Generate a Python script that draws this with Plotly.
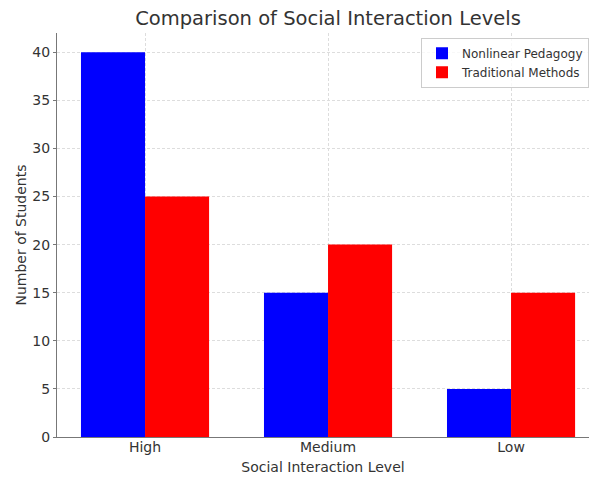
import plotly.graph_objects as go

categories = ["High", "Medium", "Low"]
nonlinear = [40, 15, 5]
traditional = [25, 20, 15]
series_names = ["Nonlinear Pedagogy", "Traditional Methods"]

W, H = 590, 477
L, R, T, B = 57, 1, 33, 40

fig = go.Figure()
fig.add_trace(go.Bar(x=[0, 1, 2], y=nonlinear, name=series_names[0],
                     marker=dict(color="#0000ff", line=dict(width=0))))
fig.add_trace(go.Bar(x=[0, 1, 2], y=traditional, name=series_names[1],
                     marker=dict(color="#ff0000", line=dict(width=0))))

font = "DejaVu Sans"
fig.update_layout(
    width=W, height=H,
    margin=dict(l=L, r=R, t=T, b=B, pad=0, autoexpand=False),
    barmode="group", bargap=0.3, bargroupgap=0,
    plot_bgcolor="white", paper_bgcolor="white",
    font=dict(family=font, color="#333333", size=14),
    title=dict(text="Comparison of Social Interaction Levels",
               x=328 / W, xanchor="center", xref="container",
               y=1 - 18 / H, yanchor="middle", yref="container",
               font=dict(size=19.5, color="#333333")),
    legend=dict(x=1.0, xanchor="right", y=0.988, yanchor="top",
                bgcolor="rgba(255,255,255,0.8)", bordercolor="#cccccc", borderwidth=1,
                font=dict(size=12, color="#333333"),
                itemsizing="constant", tracegroupgap=0, itemwidth=30),
    showlegend=True,
)
fig.update_xaxes(
    range=[-0.481, 2.426], tickmode="array", tickvals=[0, 1, 2], ticktext=categories,
    showline=True, linecolor="#777777", linewidth=1.2,
    ticks="", ticklabelstandoff=-3,
    showgrid=True, gridcolor="#dddddd", griddash="3px,2px", gridwidth=0.8,
    zeroline=False, automargin=False,
    title=dict(text="Social Interaction Level", font=dict(size=14), standoff=8),
)
fig.update_yaxes(
    range=[0, 42], tickmode="array", tickvals=list(range(0, 41, 5)),
    showline=True, linecolor="#777777", linewidth=1.2,
    ticks="outside", ticklen=3, tickcolor="#777777",
    showgrid=True, gridcolor="#dddddd", griddash="3px,2px", gridwidth=0.8,
    zeroline=False, automargin=False,
    title=dict(text="Number of Students", font=dict(size=14), standoff=2),
)
fig.write_html("out.html", config={"displayModeBar": False},
               post_script="document.body.style.margin='0';document.body.style.overflow='hidden';")
